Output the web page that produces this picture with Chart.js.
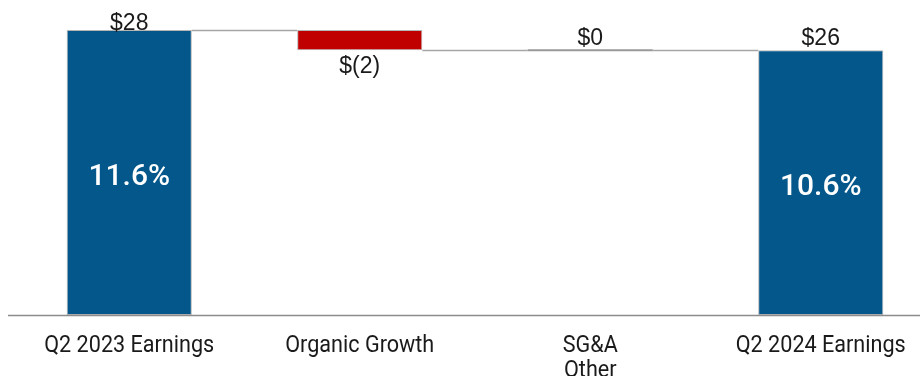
<!DOCTYPE html>
<html>
<head>
<meta charset="utf-8">
<script src="https://cdn.jsdelivr.net/npm/chart.js@4"></script>
<style>
  html, body { margin: 0; padding: 0; background: #fff; overflow: hidden; }
  #wrap { position: relative; width: 936px; height: 376px; }
</style>
</head>
<body>
<div id="wrap"><canvas id="bridgeChart"></canvas></div>
<script>
// 收益桥接图数据
const categories = ['Q2 2023 Earnings', 'Organic Growth', ['SG&A', 'Other'], 'Q2 2024 Earnings'];
const changes = [28, -2, 0, 26];           // 起点、变动、变动、终点
const isTotal = [true, false, false, true];
const valueLabels = ['$28', '$(2)', '$0', '$26'];
const marginLabels = ['11.6%', '', '', '10.6%'];

const BLUE = '#03578A';
const RED = '#C00000';
const GREY = '#A6A6A6';

// 计算浮动条的起止
let running = 0;
const ranges = changes.map((v, i) => {
    if (isTotal[i]) { running = v; return [0, v]; }
    const start = running;
    running += v;
    return [Math.min(start, running), Math.max(start, running)];
});
const colors = changes.map((v, i) => isTotal[i] ? BLUE : (v < 0 ? RED : (v > 0 ? BLUE : 'rgba(0,0,0,0)')));

// 连接线、基线和标签
const bridgePlugin = {
    id: 'bridge',
    afterDatasetsDraw(chart) {
        const ctx = chart.ctx;
        const meta = chart.getDatasetMeta(0);
        const y = chart.scales.y;
        const x = chart.scales.x;

        // 连接线
        ctx.save();
        ctx.strokeStyle = GREY;
        ctx.lineWidth = 1.5;
        let level = 0;
        changes.forEach((v, i) => {
            level = isTotal[i] ? v : level + v;
            if (i === changes.length - 1) return;
            const a = meta.data[i], b = meta.data[i + 1];
            const yy = Math.round(y.getPixelForValue(level)) + 0.5;
            ctx.beginPath();
            ctx.moveTo(a.x + a.width / 2, yy);
            ctx.lineTo(b.x - b.width / 2, yy);
            ctx.stroke();
        });

        // 零变动项画成一条细线
        changes.forEach((v, i) => {
            if (isTotal[i] || v !== 0) return;
            const el = meta.data[i];
            ctx.strokeStyle = '#999';
            ctx.lineWidth = 2;
            ctx.beginPath();
            ctx.moveTo(el.x - el.width / 2, el.y);
            ctx.lineTo(el.x + el.width / 2, el.y);
            ctx.stroke();
        });

        // 基线
        ctx.strokeStyle = '#8C8C8C';
        ctx.lineWidth = 1.5;
        const by = Math.round(y.getPixelForValue(0)) + 0.5;
        ctx.beginPath();
        ctx.moveTo(8, by);
        ctx.lineTo(920, by);
        ctx.stroke();

        // 数值标签
        ctx.fillStyle = '#1a1a1a';
        ctx.font = '23px "Liberation Sans", Arial, sans-serif';
        ctx.textAlign = 'center';
        meta.data.forEach((el, i) => {
            const top = Math.min(el.y, el.base);
            const bottom = Math.max(el.y, el.base);
            if (changes[i] < 0) {
                ctx.textBaseline = 'top';
                ctx.fillText(valueLabels[i], el.x, bottom + 5);
            } else {
                ctx.textBaseline = 'alphabetic';
                ctx.fillText(valueLabels[i], el.x, Math.max(top - 5, 30));
            }
        });

        // 利润率标签
        ctx.fillStyle = '#fff';
        ctx.font = '500 30px Roboto, "Liberation Sans", sans-serif';
        ctx.textBaseline = 'middle';
        meta.data.forEach((el, i) => {
            if (!marginLabels[i]) return;
            ctx.fillText(marginLabels[i], el.x, (el.y + el.base) / 2 + 5);
        });

        // 分类标签（窄体）
        ctx.fillStyle = '#1a1a1a';
        ctx.font = '24px Roboto, sans-serif';
        ctx.textBaseline = 'alphabetic';
        categories.forEach((label, i) => {
            const lines = Array.isArray(label) ? label : [label];
            const cx = x.getPixelForValue(i);
            lines.forEach((line, j) => {
                ctx.save();
                ctx.translate(cx, 352 + j * 25);
                ctx.scale(0.9, 1);
                ctx.fillText(line, 0, 0);
                ctx.restore();
            });
        });
        ctx.restore();
    }
};

new Chart(document.getElementById('bridgeChart'), {
    type: 'bar',
    data: {
        labels: categories,
        datasets: [{
            data: ranges,
            backgroundColor: colors,
            borderColor: changes.map(v => v === 0 ? 'rgba(0,0,0,0)' : 'rgba(150,150,150,0.7)'),
            borderWidth: 1,
            borderSkipped: false,
            categoryPercentage: 1,
            barPercentage: 0.543
        }]
    },
    options: {
        responsive: true,
        maintainAspectRatio: false,
        animation: false,
        layout: { padding: { top: 30, left: 14, right: 0, bottom: 61 } },
        plugins: {
            legend: { display: false },
            tooltip: { enabled: false }
        },
        scales: {
            x: { display: false },
            y: {
                display: false,
                min: 0,
                max: 28
            }
        }
    },
    plugins: [bridgePlugin]
});
</script>
</body>
</html>
